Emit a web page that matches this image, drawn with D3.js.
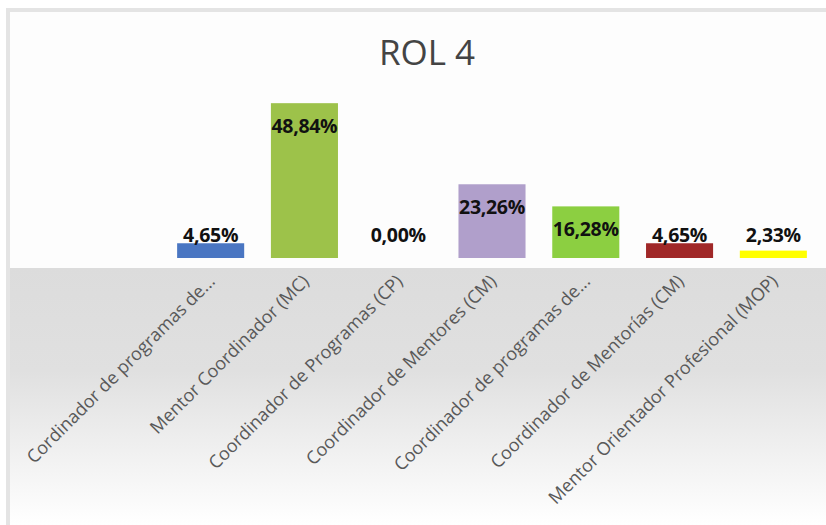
<!DOCTYPE html>
<html>
<head>
<meta charset="utf-8">
<script src="https://cdn.jsdelivr.net/npm/d3@7"></script>
<style>
  body { margin: 0; background: #fff; }
  text { font-family: "Open Sans", sans-serif; }
</style>
</head>
<body>
<script>
// Data
var categories = [
    "Cordinador de programas de...",
    "Mentor Coordinador (MC)",
    "Coordinador de Programas (CP)",
    "Coordinador de Mentores (CM)",
    "Coordinador de programas de...",
    "Coordinador de Mentorías (CM)",
    "Mentor Orientador Profesional (MOP)"
];
var values = [4.65, 48.84, 0.00, 23.26, 16.28, 4.65, 2.33];
var barColors = ["#4a76c2", "#9dc24a", "#cccccc", "#b09fcb", "#8ccf41", "#a02828", "#ffff00"];
var title = "ROL 4";

var width = 826, height = 525;

var svg = d3.select("body")
    .append("svg")
    .attr("width", width)
    .attr("height", height);

// gradient for the floor
var defs = svg.append("defs");
var grad = defs.append("linearGradient")
    .attr("id", "floor")
    .attr("x1", 0).attr("y1", 0).attr("x2", 0).attr("y2", 1);
grad.append("stop").attr("offset", "0%").attr("stop-color", "#dcdcdc");
grad.append("stop").attr("offset", "40%").attr("stop-color", "#e0e0e0");
grad.append("stop").attr("offset", "100%").attr("stop-color", "#ffffff");

// frame (right and bottom edges fall outside the picture)
svg.append("rect")
    .attr("x", 8).attr("y", 10)
    .attr("width", width + 20).attr("height", height + 20)
    .attr("fill", "#fdfdfd")
    .attr("stroke", "#e4e4e4")
    .attr("stroke-width", 4);

svg.append("rect")
    .attr("x", 10).attr("y", 268)
    .attr("width", width - 10).attr("height", height - 268)
    .attr("fill", "url(#floor)");

// Scales
var x = d3.scaleBand()
    .domain(d3.range(categories.length))
    .range([164, 820])
    .paddingInner(0.285)
    .paddingOuter(0.14);

var y = d3.scaleLinear()
    .domain([0, 50])
    .range([258, 99.5]);

var g = svg.append("g");

// Bars
g.selectAll("rect.bar")
    .data(values)
    .enter()
    .append("rect")
    .attr("class", "bar")
    .attr("x", (d, i) => x(i))
    .attr("y", (d) => y(d))
    .attr("width", x.bandwidth())
    .attr("height", (d) => y(0) - y(d))
    .attr("fill", (d, i) => barColors[i]);

// Value labels
g.selectAll("text.value")
    .data(values)
    .enter()
    .append("text")
    .attr("class", "value")
    .attr("x", (d, i) => x(i) + x.bandwidth() / 2)
    .attr("y", (d) => Math.min(y(d) + 30, 242))
    .attr("text-anchor", "middle")
    .attr("font-size", "19.5px")
    .attr("font-weight", "bold")
    .attr("letter-spacing", "-0.3px")
    .style("fill", "#111")
    .text((d) => d.toFixed(2).replace(".", ",") + "%");

// X axis labels
var xAxis = d3.axisBottom(x)
    .tickSize(0)
    .tickFormat((i) => categories[i]);
var ax = g.append("g")
    .attr("class", "bottom axis")
    .attr("transform", "translate(0, 258)")
    .call(xAxis);
ax.select(".domain").remove();
ax.selectAll("text")
    .attr("font-family", "Open Sans, sans-serif")
    .attr("font-size", "18px")
    .style("fill", "#595959")
    .attr("text-anchor", "end")
    .attr("x", 0)
    .attr("y", 0)
    .attr("dy", "0.35em")
    .attr("transform", "translate(1, 20) rotate(-45)");

// Title
svg.append("text")
    .attr("x", 427)
    .attr("y", 65)
    .attr("text-anchor", "middle")
    .attr("font-size", "35px")
    .style("fill", "#444")
    .text(title);
</script>
</body>
</html>
